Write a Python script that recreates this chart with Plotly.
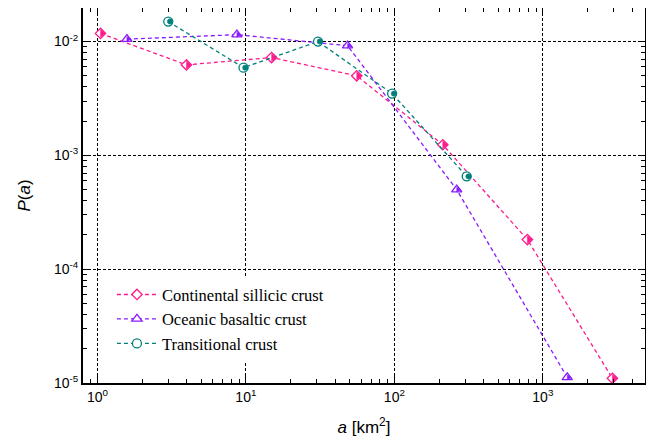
import plotly.graph_objects as go

# ---- data ----
cont_x = [1.05, 3.98, 14.9, 55.8, 212, 787, 2940]
cont_y = [0.0118, 0.00624, 0.00724, 0.0050, 0.00124, 1.82e-4, 1.10e-5]
oce_x = [1.58, 8.7, 48.4, 263, 1460]
oce_y = [0.0105, 0.0115, 0.0092, 5.0e-4, 1.12e-5]
tra_x = [3.0, 9.64, 30.6, 96.6, 307]
tra_y = [0.0150, 0.0059, 0.0100, 0.00349, 6.54e-4]

names = ["Continental sillicic crust", "Oceanic basaltic crust", "Transitional crust"]
x_tick_vals = [1, 10, 100, 1000]
x_tick_text = ["10<sup>0</sup>", "10<sup>1</sup>", "10<sup>2</sup>", "10<sup>3</sup>"]
y_tick_vals = [1e-5, 1e-4, 1e-3, 1e-2]
y_tick_text = ["10<sup>-5</sup>", "10<sup>-4</sup>", "10<sup>-3</sup>", "10<sup>-2</sup>"]

PINK = "#FF1A8C"
PURPLE = "#8A1AFF"
TEAL = "#00807A"

series = [
    (cont_x, cont_y, names[0], PINK, "diamond", 8),
    (oce_x, oce_y, names[1], PURPLE, "triangle-up", 9),
    (tra_x, tra_y, names[2], TEAL, "circle", 9),
]
# filled pieces that make the right half of each marker look solid
# (series index, symbol, size, angle, standoff)
half_fill = [
    (0, "triangle-down", 6.6, -90, 1.65),
    (1, "triangle-nw", 3.2, -90, 2.56),
    (1, "triangle-down", 4.4, -90, 1.1),
    (2, "circle", 5.4, -90, 1.8),
]

fig = go.Figure()
for x, y, nm, col, sym, sz in series:
    fig.add_trace(go.Scatter(
        x=x, y=y, name=nm, mode="lines+markers",
        line=dict(color=col, width=1.3, dash="4px,3px"),
        marker=dict(symbol=sym, size=sz, color="white",
                    line=dict(color=col, width=1.3)),
    ))
for idx, hsym, hsz, ang, so in half_fill:
    x, y, nm, col, sym, sz = series[idx]
    fig.add_trace(go.Scatter(
        x=x, y=y, name=nm, mode="markers", showlegend=False, hoverinfo="skip",
        marker=dict(symbol=hsym, size=hsz, color=col, angle=ang, standoff=so,
                    line=dict(width=0.5, color=col)),
    ))

axis_common = dict(
    type="log", showline=True, linecolor="black", linewidth=1.8, mirror="ticks",
    ticks="inside", ticklen=7, tickwidth=1, tickcolor="black",
    showgrid=True, gridcolor="black", gridwidth=1, griddash="3px,2px",
    zeroline=False, tickmode="array", automargin=False,
    tickfont=dict(family="Liberation Sans, Arial", size=14, color="black"),
    minor=dict(ticks="inside", ticklen=4, tickcolor="black", tickwidth=1,
               dtick="D1", showgrid=False),
)

fig.update_xaxes(**axis_common, range=[-0.097, 3.688],
                 tickvals=x_tick_vals, ticktext=x_tick_text,
                 title=dict(text="<i>a</i> [km<sup>2</sup>]",
                            font=dict(family="Liberation Sans, Arial", size=17, color="black"),
                            standoff=21))
fig.update_yaxes(**axis_common, range=[-5, -1.705],
                 tickvals=y_tick_vals, ticktext=y_tick_text,
                 title=dict(text="<i>P</i>(<i>a</i>)",
                            font=dict(family="Liberation Sans, Arial", size=17, color="black"),
                            standoff=19))

# the page adds an 8px body margin on every side, so the figure is
# sized to fit inside the window without scrollbars
fig.update_layout(
    width=638, height=429,
    margin=dict(l=75, r=1, t=0, b=54),
    paper_bgcolor="white", plot_bgcolor="white",
    showlegend=True,
    legend=dict(x=0.0515, y=0.282, xanchor="left", yanchor="top",
                bgcolor="white", borderwidth=0, tracegroupgap=0, itemwidth=40,
                font=dict(family="Liberation Serif, Times New Roman", size=16.5, color="black")),
)

fig.write_html("out.html")
